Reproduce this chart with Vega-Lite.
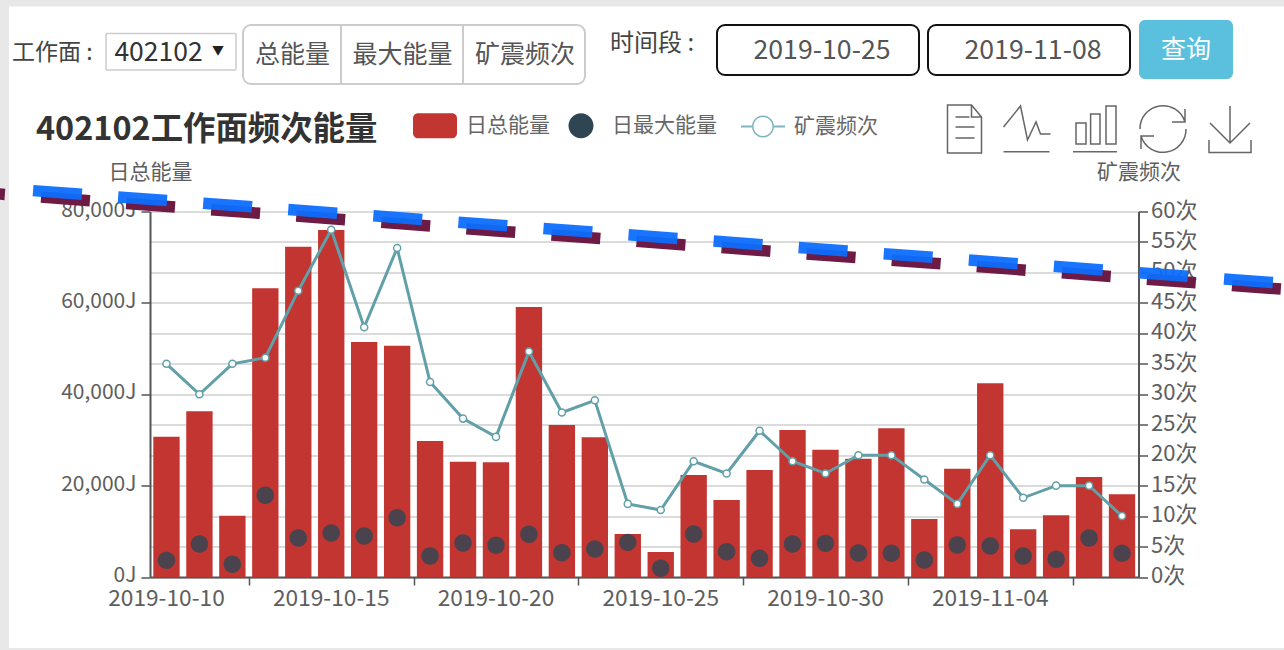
{
"$schema":"https://vega.github.io/schema/vega-lite/v6.json",
"autosize":{"type":"none"},
"padding":{"left":150,"top":211.5,"right":145.5,"bottom":73},
"width":988.5,"height":365.5,
"background":"#ffffff",
"config":{"font":"Noto Sans CJK SC","view":{"stroke":null},"text":{"font":"Noto Sans CJK SC"}},
"title":{"text":"402102工作面频次能量","anchor":"start","frame":"group","dx":-114,"dy":210,"offset":64,"fontSize":32.4,"fontWeight":"bold","color":"#333333","font":"Noto Sans CJK SC"},
"datasets":{
"rows":[
{"date":"2019-10-10","total":30700,"max":3650,"count":35},
{"date":"2019-10-11","total":36270,"max":7220,"count":30},
{"date":"2019-10-12","total":13420,"max":2780,"count":35},
{"date":"2019-10-13","total":63180,"max":17880,"count":36},
{"date":"2019-10-14","total":72300,"max":8540,"count":47},
{"date":"2019-10-15","total":75950,"max":9630,"count":57},
{"date":"2019-10-16","total":51430,"max":8970,"count":41},
{"date":"2019-10-17","total":50630,"max":12980,"count":54},
{"date":"2019-10-18","total":29770,"max":4600,"count":32},
{"date":"2019-10-19","total":25240,"max":7440,"count":26},
{"date":"2019-10-20","total":25100,"max":6940,"count":23},
{"date":"2019-10-21","total":59090,"max":9350,"count":37},
{"date":"2019-10-22","total":33270,"max":5320,"count":27},
{"date":"2019-10-23","total":30570,"max":6130,"count":29},
{"date":"2019-10-24","total":9410,"max":7590,"count":12},
{"date":"2019-10-25","total":5470,"max":1900,"count":11},
{"date":"2019-10-26","total":22320,"max":9410,"count":19},
{"date":"2019-10-27","total":16850,"max":5540,"count":17},
{"date":"2019-10-28","total":23420,"max":4090,"count":24},
{"date":"2019-10-29","total":32170,"max":7220,"count":19},
{"date":"2019-10-30","total":27860,"max":7370,"count":17},
{"date":"2019-10-31","total":25890,"max":5250,"count":20},
{"date":"2019-11-01","total":32550,"max":5190,"count":20},
{"date":"2019-11-02","total":12690,"max":3720,"count":16},
{"date":"2019-11-03","total":23700,"max":7000,"count":12},
{"date":"2019-11-04","total":42390,"max":6780,"count":20},
{"date":"2019-11-05","total":10440,"max":4600,"count":13},
{"date":"2019-11-06","total":13500,"max":3870,"count":15},
{"date":"2019-11-07","total":21880,"max":8540,"count":15},
{"date":"2019-11-08","total":18100,"max":5190,"count":10}
],
"one":[{"k":1}]
},
"data":{"name":"rows"},
"resolve":{"scale":{"y":"independent"},"axis":{"x":"independent"}},
"layer":[
{"mark":{"type":"bar","width":{"band":1},"fill":"#c23531"},
 "encoding":{
  "x":{"field":"date","type":"ordinal","title":null,"scale":{"paddingInner":0.2,"paddingOuter":0.1},
   "axis":{"orient":"bottom","values":["2019-10-10","2019-10-15","2019-10-20","2019-10-25","2019-10-30","2019-11-04"],"labelAngle":0,"labelOverlap":false,"ticks":false,"domain":true,"domainColor":"#555555","domainWidth":2,"labelFontSize":22.7,"labelColor":"#5e5e5e","labelPadding":10,"labelFont":"Noto Sans CJK SC","grid":false}},
  "y":{"field":"total","type":"quantitative","scale":{"domain":[0,80000]},
   "axis":{"values":[0,20000,40000,60000,80000],"labelExpr":"format(datum.value,',')+'J'","grid":false,"domainColor":"#555555","domainWidth":2,"tickColor":"#555555","tickWidth":1.5,"tickSize":9,"labelFontSize":21,"labelColor":"#5e5e5e","labelPadding":5,"labelOffset":-1.5,"title":"日总能量","titleAngle":0,"titleX":0,"titleY":-39,"titleAlign":"center","titleBaseline":"middle","titleFontSize":21,"titleFontWeight":"normal","titleColor":"#5e5e5e","titleFont":"Noto Sans CJK SC"}}
 }},
{"mark":{"type":"line","color":"#61a0a8","strokeWidth":3},
 "encoding":{
  "x":{"field":"date","type":"ordinal","title":null,
   "axis":{"orient":"bottom","values":["2019-10-13","2019-10-18","2019-10-23","2019-10-28","2019-11-02","2019-11-07"],"tickOffset":-16.5,"labels":false,"domain":false,"ticks":true,"tickColor":"#555555","tickWidth":1.5,"tickSize":8,"grid":false}},
  "y":{"field":"count","type":"quantitative","scale":{"domain":[0,60]},
   "axis":{"orient":"right","values":[0,5,10,15,20,25,30,35,40,45,50,55,60],"labelExpr":"datum.value+'次'","grid":true,"gridColor":"#cfcfcf","gridWidth":1.5,"domainColor":"#555555","domainWidth":2,"tickColor":"#555555","tickWidth":1.5,"tickSize":9,"labelFontSize":22,"labelColor":"#5e5e5e","labelPadding":3,"labelOffset":-1.5,"title":"矿震频次","titleAngle":0,"titleX":0,"titleY":-39,"titleAlign":"center","titleBaseline":"middle","titleFontSize":21,"titleFontWeight":"normal","titleColor":"#5e5e5e","titleFont":"Noto Sans CJK SC"}}
 }},
{"transform":[{"fold":["max"],"as":["metric","maxValue"]},{"calculate":"'日最大能量'","as":"series"}],
 "mark":{"type":"point","filled":true,"opacity":0.82,"size":938},
 "encoding":{
  "x":{"field":"date","type":"ordinal","axis":null},
  "y":{"field":"maxValue","type":"quantitative","scale":{"domain":[0,80000]},"axis":null},
  "color":{"field":"series","type":"nominal","scale":{"domain":["日总能量","日最大能量","矿震频次"],"range":["#c23531","#2f4554","#7fb5bc"]},
   "legend":{"orient":"none","legendX":263,"legendY":-108,"direction":"horizontal","columns":3,"title":null,"symbolSize":1936,"symbolStrokeWidth":0,"symbolOpacity":1,"labelFontSize":21,"labelColor":"#666666","labelFont":"Noto Sans CJK SC","labelOffset":9,"columnPadding":9,"padding":0,"labelLimit":300,"labelExpr":"datum.label=='日最大能量'?datum.label+'\u2800':datum.label"}},
  "shape":{"field":"series","type":"nominal","scale":{"domain":["日总能量","日最大能量","矿震频次"],"range":[
    "M-0.77,-0.568H0.77A0.23,0.23 0 0 1 1,-0.338V0.338A0.23,0.23 0 0 1 0.77,0.568H-0.77A0.23,0.23 0 0 1 -1,0.338V-0.338A0.23,0.23 0 0 1 -0.77,-0.568Z",
    "M-0.568,0A0.568,0.568 0 1 1 0.568,0A0.568,0.568 0 1 1 -0.568,0Z",
    "M-1,-0.045H-0.5V0.045H-1ZM0.5,-0.045H1V0.045H0.5ZM-0.5,0A0.5,0.5 0 1 1 0.5,0A0.5,0.5 0 1 1 -0.5,0ZM-0.43,0A0.43,0.43 0 1 0 0.43,0A0.43,0.43 0 1 0 -0.43,0Z"
   ]},"legend":{"orient":"none","legendX":263,"legendY":-108,"direction":"horizontal","columns":3,"title":null,"symbolSize":1936,"symbolStrokeWidth":0,"symbolOpacity":1,"labelFontSize":21,"labelColor":"#666666","labelFont":"Noto Sans CJK SC","labelOffset":9,"columnPadding":9,"padding":0,"labelLimit":300,"labelExpr":"datum.label=='日最大能量'?datum.label+'\u2800':datum.label"}}
 }},
{"mark":{"type":"point","filled":true,"fill":"#ffffff","stroke":"#61a0a8","strokeWidth":1.5,"size":50,"opacity":1},
 "encoding":{
  "x":{"field":"date","type":"ordinal","axis":null},
  "y":{"field":"count","type":"quantitative","scale":{"domain":[0,60]},"axis":null}
 }},
{"data":{"name":"one"},"mark":{"type":"rect","fill":"#e8e8e8"},"encoding":{"x":{"value":-150},"x2":{"value":-141},"y":{"value":-211.5},"y2":{"value":438.5}}},
{"data":{"name":"one"},"mark":{"type":"rect","fill":"#e8e8e8"},"encoding":{"x":{"value":-150},"x2":{"value":1134},"y":{"value":-211.5},"y2":{"value":-205}}},
{"data":{"name":"one"},"mark":{"type":"rect","fill":"#e8e8e8"},"encoding":{"x":{"value":-150},"x2":{"value":1134},"y":{"value":436.5},"y2":{"value":438.5}}},
{"data":{"name":"one"},"mark":{"type":"rule","stroke":"#6d1a45","strokeWidth":11.5,"strokeDash":[49,36.3],"strokeCap":"butt"},
 "encoding":{"x":{"value":-194},"x2":{"value":1158},"y":{"value":-20.7},"y2":{"value":79.6}}},
{"data":{"name":"one"},"mark":{"type":"rule","stroke":"#0d6efd","strokeOpacity":0.95,"strokeWidth":11.5,"strokeDash":[49,36.3],"strokeCap":"butt"},
 "encoding":{"x":{"value":-202},"x2":{"value":1150},"y":{"value":-27.2},"y2":{"value":73.1}}},

{"data":{"name":"one"},"mark":{"type":"rect","fill":"#ffffff","stroke":"#cccccc","strokeWidth":1.5,"cornerRadius":1},"encoding":{"x":{"value":-44},"x2":{"value":86},"y":{"value":-178},"y2":{"value":-141.5}}},
{"data":{"name":"one"},"mark":{"type":"rect","fill":"#ffffff","stroke":"#cccccc","strokeWidth":2,"cornerRadius":8},"encoding":{"x":{"value":93},"x2":{"value":435},"y":{"value":-186.5},"y2":{"value":-127.5}}},
{"data":{"name":"one"},"mark":{"type":"rect","fill":"#cccccc"},"encoding":{"x":{"value":190},"x2":{"value":192},"y":{"value":-186.5},"y2":{"value":-127.5}}},
{"data":{"name":"one"},"mark":{"type":"rect","fill":"#cccccc"},"encoding":{"x":{"value":312},"x2":{"value":314},"y":{"value":-186.5},"y2":{"value":-127.5}}},
{"data":{"name":"one"},"mark":{"type":"rect","fill":"#ffffff","stroke":"#111111","strokeWidth":2,"cornerRadius":8},"encoding":{"x":{"value":567},"x2":{"value":769},"y":{"value":-186.5},"y2":{"value":-136.5}}},
{"data":{"name":"one"},"mark":{"type":"rect","fill":"#ffffff","stroke":"#111111","strokeWidth":2,"cornerRadius":8},"encoding":{"x":{"value":778},"x2":{"value":980},"y":{"value":-186.5},"y2":{"value":-136.5}}},
{"data":{"name":"one"},"mark":{"type":"rect","fill":"#5bc0de","cornerRadius":6},"encoding":{"x":{"value":989},"x2":{"value":1083},"y":{"value":-191.5},"y2":{"value":-132.5}}},

{"data":{"name":"one"},"mark":{"type":"text","text":"工作面 :","align":"left","baseline":"middle","fontSize":23,"color":"#444444"},"encoding":{"x":{"value":-138},"y":{"value":-159}}},
{"data":{"name":"one"},"mark":{"type":"text","text":"402102","align":"center","baseline":"middle","fontSize":26.5,"color":"#333333"},"encoding":{"x":{"value":8.5},"y":{"value":-159}}},
{"data":{"name":"one"},"mark":{"type":"text","text":"▼","align":"center","baseline":"middle","fontSize":12,"color":"#222222"},"encoding":{"x":{"value":68},"y":{"value":-161}}},
{"data":{"name":"one"},"mark":{"type":"text","text":"总能量","align":"center","baseline":"middle","fontSize":25,"color":"#555555"},"encoding":{"x":{"value":142.5},"y":{"value":-156.5}}},
{"data":{"name":"one"},"mark":{"type":"text","text":"最大能量","align":"center","baseline":"middle","fontSize":25,"color":"#555555"},"encoding":{"x":{"value":252.5},"y":{"value":-156.5}}},
{"data":{"name":"one"},"mark":{"type":"text","text":"矿震频次","align":"center","baseline":"middle","fontSize":25,"color":"#555555"},"encoding":{"x":{"value":375},"y":{"value":-156.5}}},
{"data":{"name":"one"},"mark":{"type":"text","text":"时间段 :","align":"left","baseline":"middle","fontSize":24,"color":"#444444"},"encoding":{"x":{"value":460},"y":{"value":-168}}},
{"data":{"name":"one"},"mark":{"type":"text","text":"2019-10-25","align":"center","baseline":"middle","fontSize":26.7,"color":"#555555"},"encoding":{"x":{"value":672},"y":{"value":-161}}},
{"data":{"name":"one"},"mark":{"type":"text","text":"2019-11-08","align":"center","baseline":"middle","fontSize":26.7,"color":"#555555"},"encoding":{"x":{"value":883},"y":{"value":-161}}},
{"data":{"name":"one"},"mark":{"type":"text","text":"查询","align":"center","baseline":"middle","fontSize":25,"color":"#ffffff"},"encoding":{"x":{"value":1036},"y":{"value":-162}}},

{"data":{"name":"one"},"mark":{"type":"point","size":4,"filled":false,"stroke":"#666666","strokeWidth":1.5,"opacity":1,"shape":"M-17,-24H7L17,-12V24H-17ZM7,-24V-12H17M-9,-12H5M-9,-2H10M-9,9H10"},"encoding":{"x":{"value":814.5},"y":{"value":-82.5}}},
{"data":{"name":"one"},"mark":{"type":"point","size":4,"filled":false,"stroke":"#666666","strokeWidth":1.5,"opacity":1,"shape":"M-23,-2L-6,-23L1,11L9.5,-7L14,5H24M-23,22.7H23"},"encoding":{"x":{"value":876.5},"y":{"value":-82.5}}},
{"data":{"name":"one"},"mark":{"type":"point","size":4,"filled":false,"stroke":"#666666","strokeWidth":1.5,"opacity":1,"shape":"M-19,-6H-9V15H-19ZM-4.4,-15H5V15H-4.4ZM11,-23H21V15H11ZM-22,22.7H22"},"encoding":{"x":{"value":945},"y":{"value":-82.5}}},
{"data":{"name":"one"},"mark":{"type":"point","size":4,"filled":false,"stroke":"#666666","strokeWidth":1.5,"opacity":1,"shape":"M-23,0A23,23 0 0 1 22,-7M22,-20V-7H9M23,0A23,23 0 0 1 -22,7M-22,20V7H-9"},"encoding":{"x":{"value":1013},"y":{"value":-82.5}}},
{"data":{"name":"one"},"mark":{"type":"point","size":4,"filled":false,"stroke":"#666666","strokeWidth":1.5,"opacity":1,"shape":"M0,-23V14M-20,-6L0,14L20,-6M-21,11V23.5H21V11"},"encoding":{"x":{"value":1080},"y":{"value":-82.5}}}
]
}
